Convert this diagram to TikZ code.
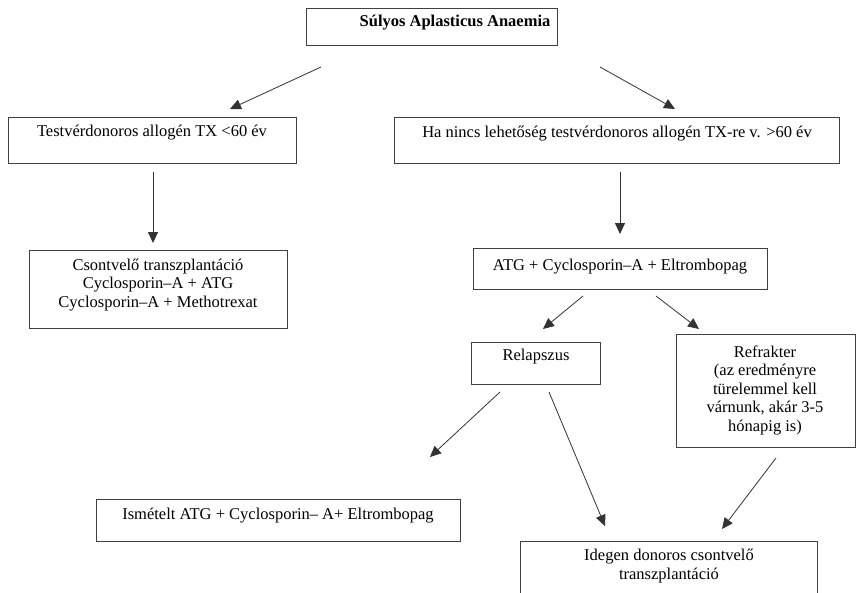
\documentclass[tikz,border=0pt]{standalone}
\usepackage{fontspec}
\setmainfont{Liberation Serif}
\usetikzlibrary{arrows.meta}
\begin{document}
\begin{tikzpicture}[x=1pt,y=-1pt,
  box/.style={draw=black!75,line width=0.9pt,rectangle,inner sep=0pt},
  txt/.style={inner sep=0pt,align=center,font=\fontsize{16.5}{18.5}\selectfont},
  arr/.style={draw=black!80,line width=0.8pt,-{Triangle[length=11pt,width=10pt]}}]
\clip (0,0) rectangle (857,592);
\fill[white] (0,0) rectangle (857,592);
% boxes
\node[box,minimum width=251,minimum height=37] (top) at (431.5,26.5) {};
\node[txt,font=\fontsize{16.5}{18.5}\selectfont\bfseries] (topt) at (455,23) {Súlyos Aplasticus Anaemia};
\node[box,minimum width=288,minimum height=46] (l1) at (152,140) {};
\node[txt] (l1t) at (152,133) {Testvérdonoros allogén TX <60 év};
\node[box,minimum width=445,minimum height=46] (r1) at (616.5,140) {};
\node[txt] (r1t) at (617,134) {Ha nincs lehetőség testvérdonoros allogén TX-re v. >60 év};
\node[box,minimum width=258,minimum height=78] (cs) at (158,289) {};
\node[txt] (cst) at (158,285) {Csontvelő transzplantáció\\Cyclosporin–A + ATG\\Cyclosporin–A + Methotrexat};
\node[box,minimum width=294,minimum height=41] (atg) at (620,268.5) {};
\node[txt] (atgt) at (620,267) {ATG + Cyclosporin–A + Eltrombopag};
\node[box,minimum width=129,minimum height=42] (rel) at (535.5,363) {};
\node[txt] (relt) at (536,357) {Relapszus};
\node[box,minimum width=179,minimum height=113] (ref) at (765.5,390.5) {};
\node[txt] (reft) at (765,390) {Refrakter\\(az eredményre\\türelemmel kell\\várnunk, akár 3-5\\hónapig is)};
\node[box,minimum width=364,minimum height=42] (ism) at (278,520) {};
\node[txt] (ismt) at (278,516) {Ismételt ATG + Cyclosporin– A+ Eltrombopag};
\node[box,minimum width=297,minimum height=70] (ide) at (668.5,576) {};
\node[txt] (idet) at (669,566) {Idegen donoros csontvelő\\transzplantáció};
% arrow endpoints
\coordinate (a1s) at (321,67); \coordinate (a1e) at (230,109);
\coordinate (a2s) at (600,67); \coordinate (a2e) at (675,109);
\coordinate (a3s) at (153,172); \coordinate (a3e) at (153,243);
\coordinate (a4s) at (620,172); \coordinate (a4e) at (620,234);
\coordinate (a5s) at (583,296); \coordinate (a5e) at (543,329);
\coordinate (a6s) at (656,296); \coordinate (a6e) at (699,329);
\coordinate (a7s) at (500,392); \coordinate (a7e) at (430,457);
\coordinate (a8s) at (549,392); \coordinate (a8e) at (605,526);
\coordinate (a9s) at (776,458); \coordinate (a9e) at (722,529);
\draw[arr] (a1s) -- (a1e);
\draw[arr] (a2s) -- (a2e);
\draw[arr] (a3s) -- (a3e);
\draw[arr] (a4s) -- (a4e);
\draw[arr] (a5s) -- (a5e);
\draw[arr] (a6s) -- (a6e);
\draw[arr] (a7s) -- (a7e);
\draw[arr] (a8s) -- (a8e);
\draw[arr] (a9s) -- (a9e);
\end{tikzpicture}
\end{document}
